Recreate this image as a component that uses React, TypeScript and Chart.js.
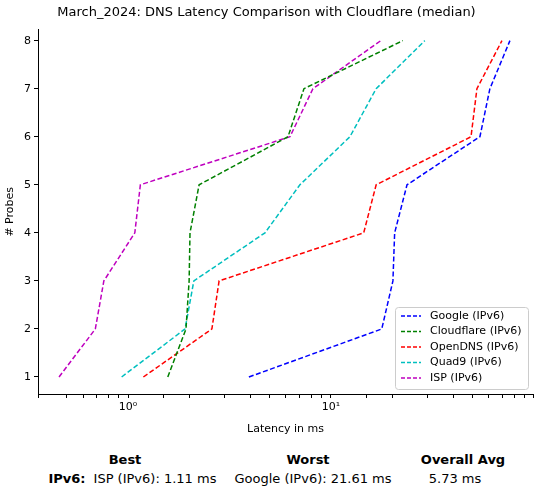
import React, { useEffect, useRef } from 'react';
import { Chart, registerables } from 'chart.js';

Chart.register(...registerables);

const probes = [1, 2, 3, 4, 5, 6, 7, 8];
const google = [3.94, 17.8, 20.2, 20.6, 23.7, 54.2, 60.7, 76.2];
const cloudflare = [1.57, 1.93, 2.0, 2.02, 2.24, 6.14, 7.36, 22.6];
const opendns = [1.19, 2.59, 2.81, 14.5, 16.7, 49.0, 52.4, 69.6];
const quad9 = [0.93, 1.91, 2.11, 4.73, 7.03, 12.4, 16.7, 29.0];
const isp = [0.457, 0.69, 0.76, 1.08, 1.15, 6.28, 8.15, 17.6];

const seriesNames = ['Google (IPv6)', 'Cloudflare (IPv6)', 'OpenDNS (IPv6)', 'Quad9 (IPv6)', 'ISP (IPv6)'];
const seriesColors = ['#0000ff', '#008000', '#ff0000', '#00bfbf', '#bf00bf'];
const seriesData = [google, cloudflare, opendns, quad9, isp];

const FONT = 'DejaVu Sans';

const legendBox = {
  id: 'legendBox',
  afterDraw(chart: any) {
    const ctx = chart.ctx;
    const x = 395, y = 307, w = 133, h = 82;
    ctx.save();
    ctx.fillStyle = 'rgba(255,255,255,0.8)';
    ctx.strokeStyle = '#cccccc';
    ctx.lineWidth = 1;
    ctx.beginPath();
    ctx.roundRect(x + 0.5, y + 0.5, w, h, 3);
    ctx.fill();
    ctx.stroke();
    ctx.font = `11px ${FONT}`;
    ctx.textBaseline = 'middle';
    seriesNames.forEach((n, i) => {
      const ly = y + 9 + i * 15.5;
      ctx.strokeStyle = seriesColors[i];
      ctx.lineWidth = 1.5;
      ctx.setLineDash([4, 2]);
      ctx.beginPath();
      ctx.moveTo(x + 6, ly);
      ctx.lineTo(x + 26, ly);
      ctx.stroke();
      ctx.setLineDash([]);
      ctx.fillStyle = '#000';
      ctx.fillText(n, x + 35, ly);
    });
    ctx.restore();
  },
};

function DnsChart() {
  const canvas = useRef<HTMLCanvasElement>(null);

  useEffect(() => {
    const chart = new Chart(canvas.current!, {
      type: 'line',
      data: {
        datasets: seriesData.map((d, i) => ({
          label: seriesNames[i],
          data: d.map((v, j) => ({ x: v, y: probes[j] })),
          borderColor: seriesColors[i],
          borderWidth: 1.5,
          borderDash: [5, 2.5],
          pointRadius: 0,
          tension: 0,
          fill: false,
        })),
      },
      options: {
        animation: false,
        responsive: false,
        layout: { padding: { right: 8, left: 0 } },
        scales: {
          x: {
            type: 'logarithmic',
            min: 0.36,
            max: 99,
            grid: { drawOnChartArea: false, color: '#000', tickLength: 4 },
            border: { color: '#000' },
            ticks: {
              autoSkip: false,
              maxRotation: 0,
              color: '#000',
              font: { family: FONT, size: 11 },
              callback: (v: any) => (v === 1 ? '10⁰' : v === 10 ? '10¹' : ''),
            },
            title: { display: true, text: 'Latency in ms', color: '#000', font: { family: FONT, size: 11 }, padding: { top: 2 } },
            afterFit: (s: any) => { s.height = 46; },
          },
          y: {
            min: 0.646,
            max: 8.23,
            grid: { drawOnChartArea: false, color: '#000', tickLength: 4 },
            border: { color: '#000' },
            ticks: { stepSize: 1, color: '#000', font: { family: FONT, size: 11 } },
            afterBuildTicks: (s: any) => {
              s.ticks = probes.map((p) => ({ value: p }));
            },
            title: { display: true, text: '# Probes', color: '#000', font: { family: FONT, size: 11 } },
            afterFit: (s: any) => { s.width = 38; },
          },
        },
        plugins: {
          legend: { display: false },
          tooltip: { enabled: false },
          title: {
            display: true,
            text: 'March_2024: DNS Latency Comparison with Cloudflare (median)',
            color: '#000',
            font: { family: FONT, size: 13, weight: 'normal' },
            padding: { top: 5, bottom: 9 },
          },
        },
      },
      plugins: [legendBox],
    });
    return () => chart.destroy();
  });

  return <canvas ref={canvas} width={541} height={440}></canvas>;
}

const abs = (x: number, y: number, bold = false): React.CSSProperties => ({
  position: 'absolute', left: x, top: y, transform: 'translateX(-50%)', whiteSpace: 'nowrap',
  fontWeight: bold ? 'bold' : 'normal', fontSize: 13, fontFamily: FONT,
});

export default function App() {
  return (
    <div style={{ position: 'absolute', left: 0, top: 0, width: 541, height: 496, background: '#fff' }}>
      <DnsChart />
      <div style={abs(125, 452, true)}>Best</div>
      <div style={abs(308, 452, true)}>Worst</div>
      <div style={abs(463, 452, true)}>Overall Avg</div>
      <div style={abs(67, 471, true)}>IPv6:</div>
      <div style={abs(155, 471)}>ISP (IPv6): 1.11 ms</div>
      <div style={abs(313, 471)}>Google (IPv6): 21.61 ms</div>
      <div style={abs(455, 471)}>5.73 ms</div>
    </div>
  );
}
